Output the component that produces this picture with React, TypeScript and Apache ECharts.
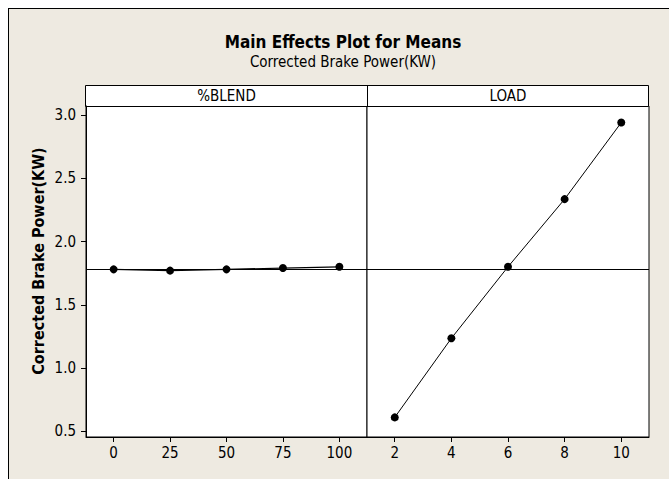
import React, { useEffect, useRef } from "react";
import * as echarts from "echarts";

const blendLevels = [0, 25, 50, 75, 100];
const blendMeans = [1.78, 1.77, 1.78, 1.79, 1.8];
const loadLevels = [2, 4, 6, 8, 10];
const loadMeans = [0.61, 1.235, 1.8, 2.335, 2.94];
const grandMean = 1.78;
const yTicks = [0.5, 1.0, 1.5, 2.0, 2.5, 3.0];
const panelNames = ["%BLEND", "LOAD"];
const chartTitle = "Main Effects Plot for Means";
const chartSubtitle = "Corrected Brake Power(KW)";
const yAxisTitle = "Corrected Brake Power(KW)";

const FONT = "'DejaVu Sans Condensed', 'DejaVu Sans', sans-serif";

export default function App() {
  const ref = useRef<HTMLDivElement>(null);

  useEffect(() => {
    if (!ref.current) return;
    const chart = echarts.init(ref.current, undefined, { renderer: "svg" });

    const xAxisCommon = (min: number, max: number, ticks: number[], gridIndex: number) => ({
      type: "value",
      gridIndex,
      min,
      max,
      splitLine: { show: false },
      axisLine: { show: true, onZero: false, lineStyle: { color: "#000", width: 1 } },
      axisTick: { show: true, length: 5, inside: false, customValues: ticks, lineStyle: { color: "#000" } },
      axisLabel: {
        show: true,
        customValues: ticks,
        margin: 8,
        color: "#000",
        fontSize: 15,
        fontFamily: FONT,
      },
    });

    const markLine = {
      silent: true,
      symbol: "none",
      label: { show: false },
      lineStyle: { color: "#000", width: 1, type: "solid" },
      emphasis: { disabled: true },
      data: [{ yAxis: grandMean }],
    };

    const option: any = {
      animation: false,
      backgroundColor: "transparent",
      grid: [
        {
          left: 86,
          top: 106,
          width: 281,
          height: 331,
          show: true,
          backgroundColor: "#fff",
          borderColor: "#000",
          borderWidth: 1,
          containLabel: false,
          outerBoundsMode: "none",
        },
        {
          left: 367,
          top: 106,
          width: 282,
          height: 331,
          show: true,
          backgroundColor: "#fff",
          borderColor: "#000",
          borderWidth: 1,
          containLabel: false,
          outerBoundsMode: "none",
        },
      ],
      xAxis: [
        xAxisCommon(-12.25, 112.25, blendLevels, 0),
        xAxisCommon(1.02, 10.98, loadLevels, 1),
      ],
      yAxis: [
        {
          type: "value",
          gridIndex: 0,
          min: 0.455,
          max: 3.071,
          splitLine: { show: false },
          axisLine: { show: true, onZero: false, lineStyle: { color: "#000" } },
          axisTick: { show: true, length: 5, customValues: yTicks, lineStyle: { color: "#000" } },
          axisLabel: {
            show: true,
            customValues: yTicks,
            formatter: (v: number) => v.toFixed(1),
            margin: 10,
            color: "#000",
            fontSize: 15,
            fontFamily: FONT,
          },
        },
        {
          type: "value",
          gridIndex: 1,
          min: 0.455,
          max: 3.071,
          splitLine: { show: false },
          axisLine: { show: false, onZero: false },
          axisTick: { show: false },
          axisLabel: { show: false },
        },
      ],
      series: [
        {
          type: "line",
          xAxisIndex: 0,
          yAxisIndex: 0,
          data: blendLevels.map((x, i) => [x, blendMeans[i]]),
          symbol: "circle",
          symbolSize: 8,
          itemStyle: { color: "#000" },
          lineStyle: { color: "#000", width: 1.2 },
          markLine,
          z: 3,
        },
        {
          type: "line",
          xAxisIndex: 1,
          yAxisIndex: 1,
          data: loadLevels.map((x, i) => [x, loadMeans[i]]),
          symbol: "circle",
          symbolSize: 8,
          itemStyle: { color: "#000" },
          lineStyle: { color: "#000", width: 1 },
          markLine,
          z: 3,
        },
      ],
      graphic: [
        {
          type: "rect",
          shape: { x: 85.5, y: 85.5, width: 563, height: 21 },
          style: { fill: "#fff", stroke: "#000", lineWidth: 1 },
        },
        {
          type: "line",
          shape: { x1: 367.5, y1: 85.5, x2: 367.5, y2: 106.5 },
          style: { stroke: "#000", lineWidth: 1 },
        },
        {
          type: "text",
          x: 226.5,
          y: 96,
          style: {
            text: panelNames[0],
            fill: "#000",
            font: `15px ${FONT}`,
            textAlign: "center",
            textVerticalAlign: "middle",
          },
        },
        {
          type: "text",
          x: 508,
          y: 96,
          style: {
            text: panelNames[1],
            fill: "#000",
            font: `15px ${FONT}`,
            textAlign: "center",
            textVerticalAlign: "middle",
          },
        },
        {
          type: "text",
          x: 343,
          y: 42,
          style: {
            text: chartTitle,
            fill: "#000",
            font: `bold 17px ${FONT}`,
            textAlign: "center",
            textVerticalAlign: "middle",
          },
        },
        {
          type: "text",
          x: 343,
          y: 62,
          style: {
            text: chartSubtitle,
            fill: "#000",
            font: `15px ${FONT}`,
            textAlign: "center",
            textVerticalAlign: "middle",
          },
        },
        {
          type: "text",
          x: 38,
          y: 261,
          rotation: Math.PI / 2,
          style: {
            text: yAxisTitle,
            fill: "#000",
            font: `bold 16px ${FONT}`,
            textAlign: "center",
            textVerticalAlign: "middle",
          },
        },
      ],
    };

    chart.setOption(option);
    return () => chart.dispose();
  }, []);

  return (
    <div
      style={{
        position: "fixed",
        left: 0,
        top: 0,
        width: 669,
        height: 479,
        background: "#fff",
        overflow: "hidden",
      }}
    >
      <div
        style={{
          position: "absolute",
          left: 8,
          top: 8,
          width: 700,
          height: 500,
          background: "#EEEAE1",
          borderTop: "1px solid #000",
          borderLeft: "1px solid #000",
        }}
      />
      <div
        ref={ref}
        style={{ position: "absolute", left: 0, top: 0, width: 669, height: 479 }}
      />
    </div>
  );
}
